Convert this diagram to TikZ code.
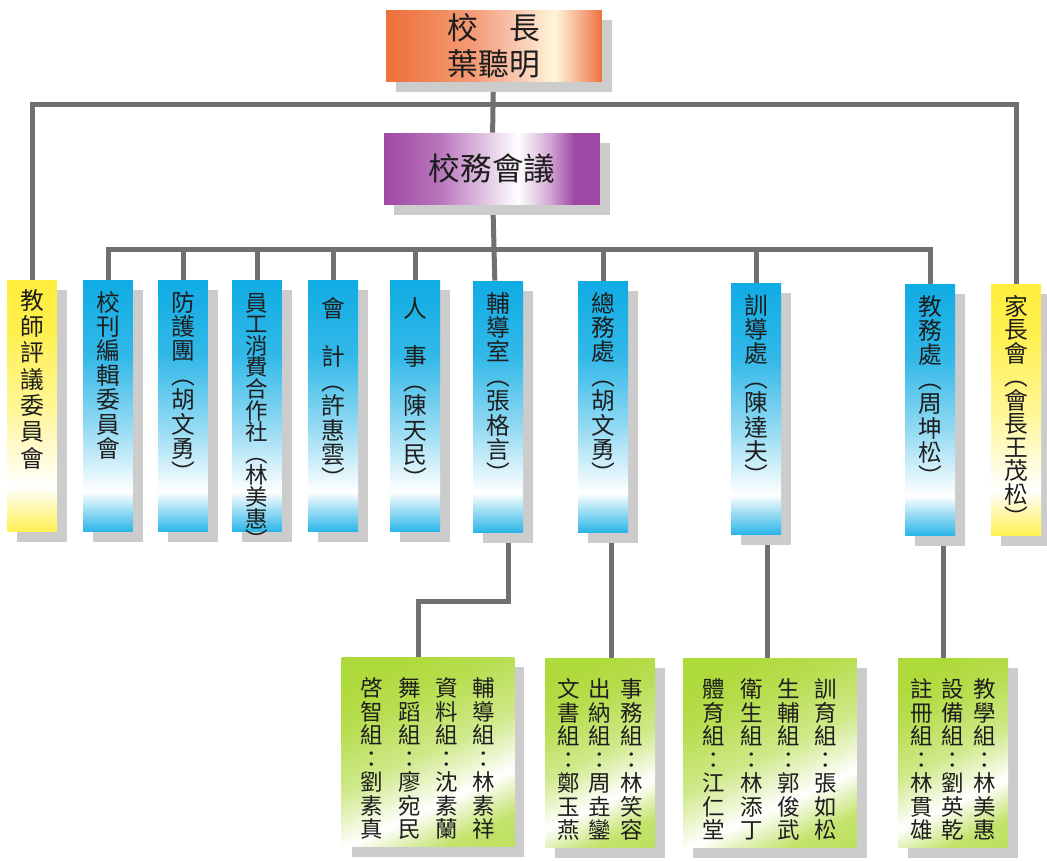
\documentclass[tikz,border=0pt]{standalone}
\usepackage{fontspec}
\setmainfont{Noto Sans CJK TC}
\usepackage{tikz}
\usetikzlibrary{shadows}
\usetikzlibrary{backgrounds}

\definecolor{linkgray}{RGB}{112,112,112}
\definecolor{shadowgray}{RGB}{204,204,204}
\definecolor{textdark}{RGB}{30,30,30}
\definecolor{orng}{RGB}{238,112,58}
\definecolor{cream}{RGB}{255,246,214}
\definecolor{purp}{RGB}{160,72,165}
\definecolor{bcyan}{RGB}{15,172,228}
\definecolor{yel}{RGB}{255,238,60}
\definecolor{grn}{RGB}{175,218,60}

\pgfdeclarehorizontalshading{principalfade}{100bp}{color(0bp)=(orng); color(25bp)=(orng); color(45bp)=(orng!70!white); color(55bp)=(orng!40!white); color(64bp)=(cream); color(71bp)=(orng!65!white); color(75bp)=(orng); color(100bp)=(orng)}
\pgfdeclarehorizontalshading{councilfade}{100bp}{color(0bp)=(purp); color(25bp)=(purp); color(38bp)=(purp!75!white); color(50bp)=(purp!25!white); color(56bp)=(white); color(63bp)=(purp!45!white); color(69bp)=(purp); color(75bp)=(purp); color(100bp)=(purp)}
\pgfdeclareverticalshading{unitfade}{100bp}{color(0bp)=(bcyan); color(25bp)=(bcyan!90!white); color(33bp)=(white); color(46bp)=(bcyan!45!white); color(60bp)=(bcyan!85!white); color(75bp)=(bcyan); color(100bp)=(bcyan)}
\pgfdeclareverticalshading{sidefade}{100bp}{color(0bp)=(yel); color(25bp)=(yel!90!white); color(34bp)=(white); color(50bp)=(yel!55!white); color(65bp)=(yel!90!white); color(75bp)=(yel); color(100bp)=(yel)}
\pgfdeclareverticalshading{groupfade}{100bp}{color(0bp)=(grn); color(25bp)=(grn!75!white); color(36bp)=(white); color(50bp)=(grn!60!white); color(65bp)=(grn!90!white); color(75bp)=(grn); color(100bp)=(grn)}

% characters stacked one per line
\def\vgobble#1{}
\def\vstackA#1#2\vend{\smash{#1}\ifx\relax#2\relax\expandafter\vgobble\else\expandafter\vstackB\fi{#2}}
\def\vstackB#1{\\\vstackA#1\vend}
\newcommand{\vtext}[1]{\begin{tabular}[t]{@{}c@{}}\vstackA#1\vend\end{tabular}}

\tikzset{
  link/.style={draw=linkgray, line width=0.1cm},
  boxshadow/.style={drop shadow={shadow xshift=0.2cm, shadow yshift=-0.2cm, fill=shadowgray, opacity=1}},
  headbox/.style={boxshadow, minimum width=4.32cm, minimum height=1.44cm, inner sep=0pt, align=center, text=textdark, font=\fontsize{17.5}{20.5}\selectfont},
  unitbox/.style={boxshadow, shading=unitfade, minimum width=1cm, inner sep=0pt, text height=0.62cm, text depth=4.42cm, text=textdark, font=\fontsize{13.5}{13.9}\selectfont},
  sidebox/.style={unitbox, shading=sidefade},
  groupbox/.style={boxshadow, shading=groupfade, shading angle=25, minimum height=3.8cm, inner sep=0pt, text height=0.79cm, text depth=3.01cm, text=textdark, font=\fontsize{12.8}{13.4}\selectfont}
}

\begin{document}
\begin{tikzpicture}[x=0.02cm, y=-0.02cm]
\useasboundingbox (0,0) rectangle (1047,861);

% principal and council
\node[headbox, shading=principalfade] (pri) at (494,46) {校　長\\葉聽明};
\node[headbox, shading=councilfade, font=\fontsize{18}{21}\selectfont] (cou) at (492,169) {校務會議};

% units
\node[sidebox, text height=0.58cm, text depth=4.46cm, font=\fontsize{13.5}{15}\selectfont] (tpc) at (32,406) {\vtext{教師評議委員會}};
\node[unitbox] (kk) at (108,406) {\vtext{校刊編輯委員會}};
\node[unitbox] (fh) at (183,406) {\vtext{防護團︵胡文勇︶}};
\node[unitbox, font=\fontsize{12.8}{12.3}\selectfont] (yg) at (257,406) {\vtext{員工消費合作社︵林美惠︶}};
\node[unitbox, text height=0.74cm, text depth=4.3cm] (kj) at (333,406) {\vtext{會　計︵許惠雲︶}};
\node[unitbox, text height=0.74cm, text depth=4.3cm] (rs) at (415,406) {\vtext{人　事︵陳天民︶}};
\node[unitbox] (fud) at (498,407) {\vtext{輔導室︵張格言︶}};
\node[unitbox] (zw) at (603,407) {\vtext{總務處︵胡文勇︶}};
\node[unitbox] (xd) at (756,409) {\vtext{訓導處︵陳達夫︶}};
\node[unitbox] (jw) at (930,410) {\vtext{教務處︵周坤松︶}};
\node[sidebox, font=\fontsize{13.5}{13.4}\selectfont] (par) at (1016,410) {\vtext{家長會︵會長王茂松︶}};

% sections
\node[groupbox, minimum width=3.46cm] (fdz) at (428,752) {\vtext{啓智組：劉素真}\hspace{0.3cm}\vtext{舞蹈組：廖宛民}\hspace{0.3cm}\vtext{資料組：沈素蘭}\hspace{0.3cm}\vtext{輔導組：林素祥}};
\node[groupbox, minimum width=2.2cm] (zwz) at (600,753) {\vtext{文書組：鄭玉燕}\hspace{0.18cm}\vtext{出納組：周垚鑾}\hspace{0.18cm}\vtext{事務組：林笑容}};
\node[groupbox, minimum width=3.48cm] (xdz) at (770,753) {\vtext{體育組：江仁堂}\hspace{0.3cm}\vtext{衛生組：林添丁}\hspace{0.3cm}\vtext{生輔組：郭俊武}\hspace{0.3cm}\vtext{訓育組：張如松}};
\node[groupbox, minimum width=2.2cm] (jwz) at (953,753) {\vtext{註冊組：林貫雄}\hspace{0.18cm}\vtext{設備組：劉英乾}\hspace{0.18cm}\vtext{教學組：林美惠}};

% connectors behind the boxes
\begin{scope}[on background layer]
\coordinate (topbus) at (495,105);
\coordinate (midbus) at (495,250);
\coordinate (fdbend) at (418,601);
\draw[link] (pri) -- (cou);
\draw[link] (tpc) |- (topbus) -| (par);
\draw[link] (cou) -- (fud);
\draw[link] (kk) |- (midbus) -| (jw);
\foreach \n in {fh,yg,kj,rs,zw,xd}
  \draw[link] (\n) -- (\n |- midbus);
\draw[link] ([xshift=0.2cm]fud.center) |- (fdbend) |- (fdz);
\draw[link] ([xshift=0.16cm]zw.center) |- (zwz);
\draw[link] ([xshift=0.22cm]xd.center) |- (xdz);
\draw[link] ([xshift=0.26cm]jw.center) |- (jwz);
\end{scope}
\end{tikzpicture}
\end{document}
